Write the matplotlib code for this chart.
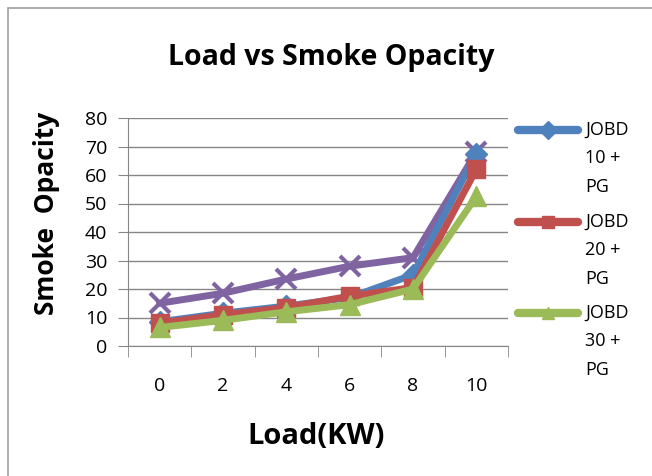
import matplotlib.pyplot as plt
from matplotlib.patches import Rectangle
from matplotlib.lines import Line2D

carichi = ["0", "2", "4", "6", "8", "10"]
jobd10 = [8.5, 11.5, 14, 17, 25, 67.5]
jobd20 = [8, 11, 13.5, 17.5, 20.5, 62]
jobd30 = [6.5, 9, 12, 14.5, 20, 52.5]
serie4 = [15, 18.5, 23.5, 28, 31, 68]
etichette = ["JOBD\n10 +\nPG", "JOBD\n20 +\nPG", "JOBD\n30 +\nPG"]
colori = ["#4F81BD", "#C0504D", "#9BBB59"]
marker_leg = ["D", "s", "^"]

plt.rcParams['font.family'] = ['Open Sans', 'DejaVu Sans']

fig = plt.figure(figsize=(6.52, 4.76), dpi=100)
fig.add_artist(Rectangle((8 / 652, -0.1), 1.2, (476 - 8) / 476 + 0.1,
                         transform=fig.transFigure, fill=False,
                         edgecolor="#A0A0A0", linewidth=1.2))

ax = fig.add_axes([128 / 652, (476 - 346) / 476, 380 / 652, 228 / 476])
x = list(range(len(carichi)))

ax.plot(x, serie4, color="#8064A2", lw=5, marker="x", ms=14, mew=3, zorder=2)
ax.plot(x, jobd10, color=colori[0], lw=5, marker="D", ms=11, zorder=3)
ax.plot(x, jobd20, color=colori[1], lw=5, marker="s", ms=13, zorder=4)
ax.plot(x, jobd30, color=colori[2], lw=5, marker="^", ms=15, zorder=5)

ax.set_ylim(0, 80)
ax.set_xlim(-0.5, len(carichi) - 0.5)
ax.set_yticks(range(0, 81, 10))
ax.set_xticks(x)
ax.set_xticklabels(carichi)
ax.set_xticks([i - 0.5 for i in range(len(carichi) + 1)], minor=True)
ax.tick_params(axis="x", which="major", length=0, pad=22, labelsize=14)
ax.tick_params(axis="x", which="minor", length=8, color="#868686", direction="out")
ax.tick_params(axis="y", length=7, color="#868686", labelsize=14, pad=8)
ax.yaxis.grid(True, color="#868686", lw=1)
ax.set_axisbelow(True)
for s in ["top", "right"]:
    ax.spines[s].set_visible(False)
for s in ["left", "bottom"]:
    ax.spines[s].set_color("#868686")

fig.text(331 / 652, 1 - 58 / 476, "Load vs Smoke Opacity", fontsize=20.5,
         fontweight="bold", ha="center", va="center")
fig.text(316 / 652, 1 - 437 / 476, "Load(KW)", fontsize=21,
         fontweight="bold", ha="center", va="center")
fig.text(47 / 652, 1 - 213 / 476, "Smoke  Opacity", fontsize=19,
         fontweight="bold", ha="center", va="center", rotation=90)

# legenda disegnata a mano (testo su tre righe, simbolo sulla prima)
for i, (lab, col, mk) in enumerate(zip(etichette, colori, marker_leg)):
    yy = 1 - (130 + i * 91.5) / 476
    fig.add_artist(Line2D([518 / 652, 578 / 652], [yy, yy], transform=fig.transFigure,
                          color=col, lw=6, solid_capstyle="round"))
    fig.add_artist(Line2D([548 / 652], [yy], transform=fig.transFigure,
                          color=col, marker=mk, ms=9))
    fig.text(585 / 652, yy + 9 / 476, lab, fontsize=13, ha="left", va="top",
             linespacing=1.75)

plt.savefig("out.png", dpi=100)
